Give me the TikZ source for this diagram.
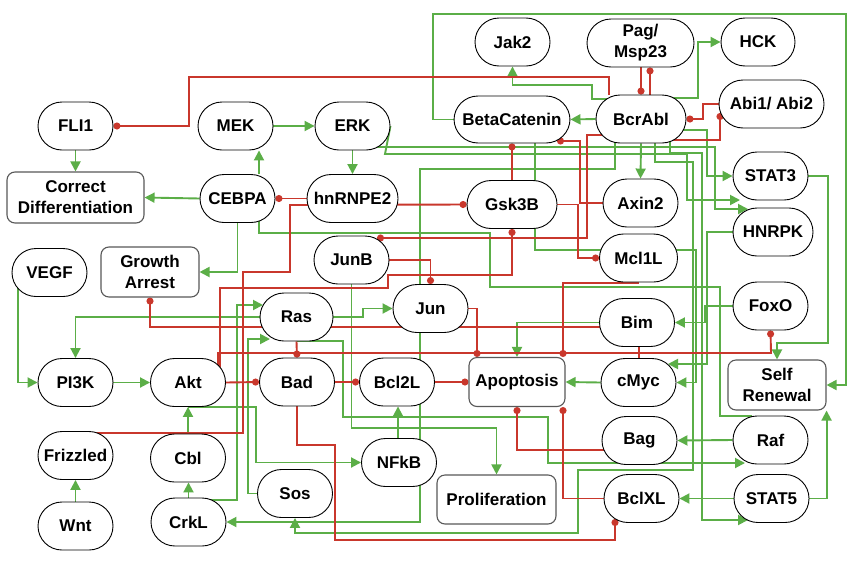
\documentclass[tikz,border=0pt]{standalone}
\usepackage{fontspec}
\setmainfont{Liberation Sans}
\usetikzlibrary{arrows.meta}
\definecolor{eg}{HTML}{5BAE47}
\definecolor{er}{HTML}{C9372C}
\pgfdeclarelayer{bg}
\pgfsetlayers{bg,main}
\begin{document}
\begin{tikzpicture}[x=1pt,y=-1pt,
 lbl/.style={font=\fontsize{17}{21}\selectfont\bfseries, align=center, inner sep=0pt},
 pill/.style={lbl, draw=black, line width=0.9pt, fill=white, rounded corners=24pt, minimum height=48pt, minimum width=75pt},
 box/.style={lbl, draw=black!65, line width=1.1pt, fill=white, rounded corners=8pt, minimum height=50pt},
 act/.style={draw=eg, line width=1.9pt, -{Triangle[length=10pt,width=10pt]}},
 actp/.style={draw=eg, line width=1.9pt},
 inh/.style={draw=er, line width=1.9pt, -{Circle[length=7pt]}},
 inhp/.style={draw=er, line width=1.9pt}]
\useasboundingbox (0,0) rectangle (853,565);
% nodes
\node[pill] (FLI1) at (75.5,126) {FLI1};
\node[pill] (MEK) at (235.5,126) {MEK};
\node[pill] (ERK) at (352.5,126) {ERK};
\node[pill] (Jak2) at (512.5,42) {Jak2};
\node[pill, minimum width=107pt] (Pag) at (640.5,43) {Pag/\\Msp23};
\node[pill, minimum width=74pt] (HCK) at (758,42) {HCK};
\node[pill, minimum width=116pt, minimum height=47pt] (BetaCatenin) at (512,119.5) {BetaCatenin};
\node[pill, minimum width=90pt] (BcrAbl) at (641,119) {BcrAbl};
\node[pill, minimum width=105pt] (Abi) at (771.5,104) {Abi1/ Abi2};
\node[box, minimum width=137pt, minimum height=51pt] (CorrDiff) at (75.5,197.5) {Correct\\Differentiation};
\node[pill] (CEBPA) at (237.5,198.5) {CEBPA};
\node[pill, minimum width=91pt] (hnRNPE2) at (352.5,198.5) {hnRNPE2};
\node[pill, minimum width=90pt] (Gsk3B) at (512,204.5) {Gsk3B};
\node[pill] (Axin2) at (640.5,203) {Axin2};
\node[pill] (STAT3) at (770.5,176) {STAT3};
\node[pill, minimum width=80pt] (HNRPK) at (773,232) {HNRPK};
\node[pill] (VEGF) at (49.5,272.5) {VEGF};
\node[box, minimum width=98pt] (GA) at (150,272) {Growth\\Arrest};
\node[pill] (JunB) at (351.5,260) {JunB};
\node[pill, minimum width=78pt] (Mcl1L) at (638.5,258) {Mcl1L};
\node[pill, minimum width=73pt] (Ras) at (296.5,317) {Ras};
\node[pill] (Jun) at (430.5,308.5) {Jun};
\node[pill] (Bim) at (637,322.5) {Bim};
\node[pill] (FoxO) at (770.5,306) {FoxO};
\node[pill] (PI3K) at (75.5,382.5) {PI3K};
\node[pill] (Akt) at (188,382.5) {Akt};
\node[pill] (Bad) at (297,382) {Bad};
\node[pill] (Bcl2L) at (397,382) {Bcl2L};
\node[box, minimum width=96pt, minimum height=49pt] (Apoptosis) at (517,382) {Apoptosis};
\node[pill] (cMyc) at (638.5,382.5) {cMyc};
\node[box, minimum width=98pt] (SelfRen) at (777,385) {Self\\Renewal};
\node[pill] (Frizzled) at (75.5,455.5) {Frizzled};
\node[pill] (Cbl) at (188,458) {Cbl};
\node[pill] (NFkB) at (399,462.5) {NFkB};
\node[pill] (Bag) at (639.5,440.5) {Bag};
\node[pill] (Raf) at (770.5,440) {Raf};
\node[pill] (Sos) at (295,493.5) {Sos};
\node[box, minimum width=119pt, minimum height=49pt] (Prolif) at (496.5,499.5) {Proliferation};
\node[pill] (Wnt) at (75.5,526) {Wnt};
\node[pill] (CrkL) at (188.5,522) {CrkL};
\node[pill] (BclXL) at (641.5,498.5) {BclXL};
\node[pill] (STAT5) at (771.5,498.5) {STAT5};
\begin{pgfonlayer}{bg}
\fill[white] (0,0) rectangle (853,565);
% activations
\draw[act] (FLI1.south) -- (CorrDiff.north);
\draw[act] (MEK.east) -- (ERK.west);
\draw[act] (CEBPA.north -| 259,0) -- (MEK.south -| 259,0);
\draw[act] (ERK.south) -- (hnRNPE2.north);
\draw[act] (BcrAbl.center |- 0,99) -| (592,85) -| (Jak2.south);
\draw[act] (BcrAbl.center |- 0,98) -| (698,42) -- (HCK.west);
\draw[act] (BcrAbl.west) -- (BetaCatenin.east);
\draw[act] (BetaCatenin.west) -| (433,14) -| (846,385) -- (SelfRen.east);
\draw[act] (BcrAbl.south) -- (Axin2.north);
\draw[act] (BcrAbl.center |- 0,130) -| (707,176) -- (STAT3.west);
\draw[act] (BcrAbl.center -| 615,0) |- (420,169) |- (CrkL.east);
\draw[act] (BetaCatenin.center -| 535,0) |- (696,250) |- (cMyc.east);
\draw[act] (ERK.center |- 0,147) -| (715,209) -- (748,209);
\draw[act] (ERK.east) -- (385,154) -| (687,200) -- (740,200);
\draw[act] (BcrAbl.center -| 655,0) |- (693,162) |- (578,470) |- (295,533) -- (Sos.south);
\draw[act] (BcrAbl.center -| 670,0) |- (702,153) |- (748,520);
\draw[act] (HNRPK.west) -| (707,364) -- (668,364);
\draw[act] (FoxO.west) -| (705,322.5) -- (Bim.east);
\draw[act] (STAT3.east) -| (828,343) -| (SelfRen.north);
\draw[actp] (CEBPA.center -| 259,0) |- (490,233) |- (720,287) |- (752,416);
\draw[act] (Ras.east) -| (363,308.5) -- (Jun.west);
\draw[act] (Ras.west) -| (PI3K.north);
\draw[act] (CrkL.center |- 0,500) -| (237,305) -- (263,305);
\draw[act] (Sos.west) -| (248,339) -- (270,339);
\draw[act] (PI3K.east) -- (Akt.west);
\draw[act] (VEGF.center -| 18,0) |- (PI3K.west);
\draw[act] (Cbl.north) -- (Akt.south);
\draw[act] (CrkL.north) -- (Cbl.south -| CrkL.north);
\draw[act] (Wnt.north) -- (Frizzled.south);
\draw[act] (Akt.center |- 0,407) -| (256,462.5) -- (NFkB.west);
\draw[act] (NFkB.north -| 398,0) -- (Bcl2L.south -| 398,0);
\draw[act] (cMyc.west) -- (Apoptosis.east);
\draw[act] (Bim.west) -| (Apoptosis.north);
\draw[act] (Raf.west) -- (Bag.east);
\draw[act] (STAT5.west) -- (BclXL.east);
\draw[act] (STAT5.east) -| (SelfRen.south east);
\draw[act] (Ras.center |- 0,341) -| (343,417) -| (548,463) -- (745,463);
\draw[act] (JunB.south) |- (496.5,428) -- (Prolif.north);
\draw[act] (CEBPA.west) -- (CorrDiff.east);
\draw[act] (CEBPA.south) |- (GA.east);
% inhibitions
\draw[inh] (BcrAbl.north -| 609,0) |- (189,77) |- (FLI1.east);
\draw[inh] (Pag.south -| 641,0) -- (BcrAbl.north -| 641,0);
\draw[inh] (BcrAbl.north -| 650,0) -- (Pag.south -| 650,0);
\draw[inh] (Abi.west) -| (703,119) -- (BcrAbl.east);
\draw[inh] (BcrAbl.center |- 0,140) -| (720,113);
\draw[inh] (Gsk3B.north) -- (BetaCatenin.south);
\draw[inh] (Axin2.west) -| (580,141) -- (557,141);
\draw[inh] (BcrAbl.center |- 0,135) -| (587,238) -- (377,238);
\draw[inh] (Gsk3B.east) -| (578,258) -- (Mcl1L.west);
\draw[inh] (Frizzled.center |- 0,433) -| (243,272) -| (290,205) -- (Gsk3B.west);
\draw[inh] (Akt.center -| 220,0) |- (388,288) |- (512,275) -- (Gsk3B.south);
\draw[inh] (Akt.center -| 218,0) |- (771,353) -- (FoxO.south);
\draw[inh] (Ras.south) -- (Bad.north);
\draw[inh] (Akt.east) -- (Bad.west);
\draw[inh] (Bad.east) -- (Bcl2L.west);
\draw[inh] (Bcl2L.east) -- (Apoptosis.west);
\draw[inh] (JunB.east) -| (Jun.north);
\draw[inh] (Jun.east) -| (Apoptosis.north -| 477,0);
\draw[inh] (Bim.center |- 0,327) -| (GA.south);
\draw[inh] (Mcl1L.center |- 0,283) -| (Apoptosis.north -| 563,0);
\draw[inhp] (Bim.south -| 639,0) -- (cMyc.north -| 639,0);
\draw[inh] (Bag.center |- 0,450) -| (Apoptosis.south);
\draw[inh] (BclXL.west) -| (Apoptosis.south -| 563,0);
\draw[inh] (Bad.south) |- (335,445) |- (615,540) -- (615,519);
\draw[inh] (hnRNPE2.west) -- (CEBPA.east);
\end{pgfonlayer}
\end{tikzpicture}
\end{document}
